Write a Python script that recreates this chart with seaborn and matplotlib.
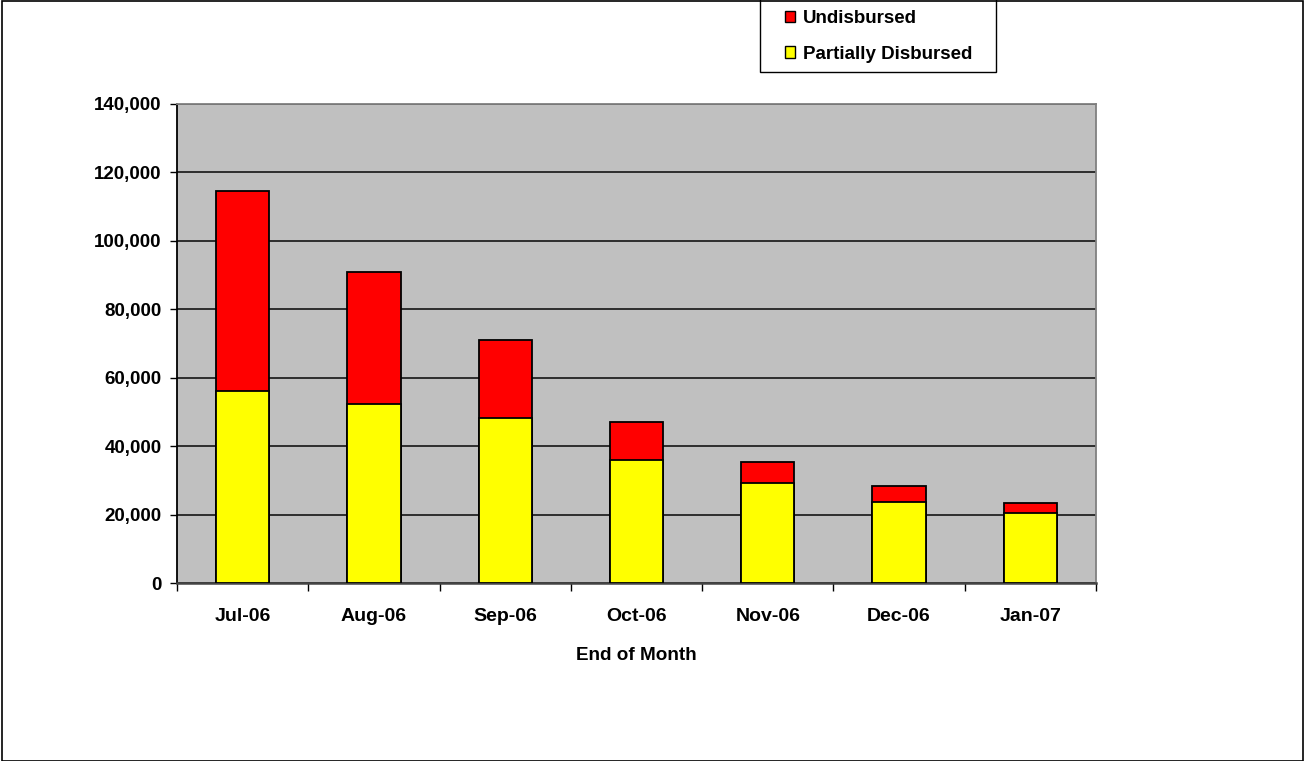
import matplotlib
matplotlib.use("Agg")
import matplotlib.pyplot as plt
import seaborn as sns
import pandas as pd
from matplotlib.patches import Patch, Rectangle
from matplotlib.ticker import FuncFormatter, FixedLocator

months = ["Jul-06", "Aug-06", "Sep-06", "Oct-06", "Nov-06", "Dec-06", "Jan-07"]
partially_disbursed = [56100, 52300, 48300, 35900, 29200, 23800, 20500]
undisbursed = [58400, 38500, 22800, 11200, 6300, 4500, 2900]

y_ticks = [0, 20000, 40000, 60000, 80000, 100000, 120000, 140000]
x_label = "End of Month"
legend_labels = ["Undisbursed", "Partially Disbursed"]

sns.set_style("white")
plt.rcParams["font.family"] = ["Liberation Sans", "DejaVu Sans"]
plt.rcParams["font.weight"] = "bold"
plt.rcParams["text.color"] = "black"
plt.rcParams["axes.labelcolor"] = "black"
plt.rcParams["xtick.color"] = "black"
plt.rcParams["ytick.color"] = "black"

df = pd.DataFrame({
    "month": months,
    "partial": partially_disbursed,
    "undisbursed": undisbursed,
})
df["total"] = df["partial"] + df["undisbursed"]

W, H = 1305, 761
fig = plt.figure(figsize=(W / 100, H / 100), dpi=100)
ax = fig.add_axes([177 / W, 1 - 583 / H, (1096 - 177) / W, (583 - 104) / H])
ax.set_facecolor("#C0C0C0")

red = "#FF0000"
yellow = "#FFFF00"

sns.barplot(data=df, x="month", y="total", color=red, width=0.405,
            edgecolor="black", linewidth=1.3, saturation=1, ax=ax, zorder=3)
sns.barplot(data=df, x="month", y="partial", color=yellow, width=0.405,
            edgecolor="black", linewidth=1.3, saturation=1, ax=ax, zorder=4)

ax.set_xlim(-0.5, len(months) - 0.5)
ax.set_ylim(0, 140000)
ax.yaxis.set_major_locator(FixedLocator(y_ticks))
ax.yaxis.set_major_formatter(FuncFormatter(lambda v, p: f"{int(v):,}"))
ax.grid(axis="y", color="#222222", linewidth=1.3, zorder=1)
ax.set_axisbelow(True)

ax.set_xlabel(x_label, fontsize=13.6, fontweight="bold", labelpad=16, color="black")
ax.set_ylabel("")

ax.tick_params(axis="y", which="major", left=True, direction="out", length=5, width=1,
               labelsize=13.5, pad=6, color="black", labelcolor="black")
ax.tick_params(axis="x", which="major", bottom=True, length=0, labelsize=14, pad=18,
               labelcolor="black")
ax.xaxis.set_minor_locator(FixedLocator([i - 0.5 for i in range(len(months) + 1)]))
ax.tick_params(axis="x", which="minor", bottom=True, direction="out", length=5.5, width=1,
               color="black")
for lab in ax.get_xticklabels() + ax.get_yticklabels():
    lab.set_fontweight("bold")

for s in ["top", "right"]:
    ax.spines[s].set_color("#808080")
    ax.spines[s].set_linewidth(1.3)
ax.spines["left"].set_color("black")
ax.spines["left"].set_linewidth(1.3)
ax.spines["bottom"].set_color("#444444")
ax.spines["bottom"].set_linewidth(1.8)

handles = [Patch(facecolor=red, edgecolor="black", linewidth=1),
           Patch(facecolor=yellow, edgecolor="black", linewidth=1)]
leg = fig.legend(handles, legend_labels, loc="upper left",
                 bbox_to_anchor=(785 / W, 1.0 - 10 / H), frameon=False,
                 handlelength=0.55, handleheight=0.55,
                 handletextpad=0.42, labelspacing=1.0, borderpad=0,
                 borderaxespad=0, prop={"weight": "bold", "size": 13.5})
for t in leg.get_texts():
    t.set_color("black")

# legend frame
fig.patches.append(Rectangle((760 / W, 1 - 72 / H), (996 - 760) / W, 74 / H,
                             transform=fig.transFigure, fill=True, facecolor="white",
                             edgecolor="black", linewidth=1.0, zorder=0))

# outer chart border
fig.patches.append(Rectangle((2 / W, 0), (W - 4) / W, 1 - 0.5 / H, transform=fig.transFigure,
                             fill=False, edgecolor="black", linewidth=1.2))

fig.savefig("out.png", dpi=100)
